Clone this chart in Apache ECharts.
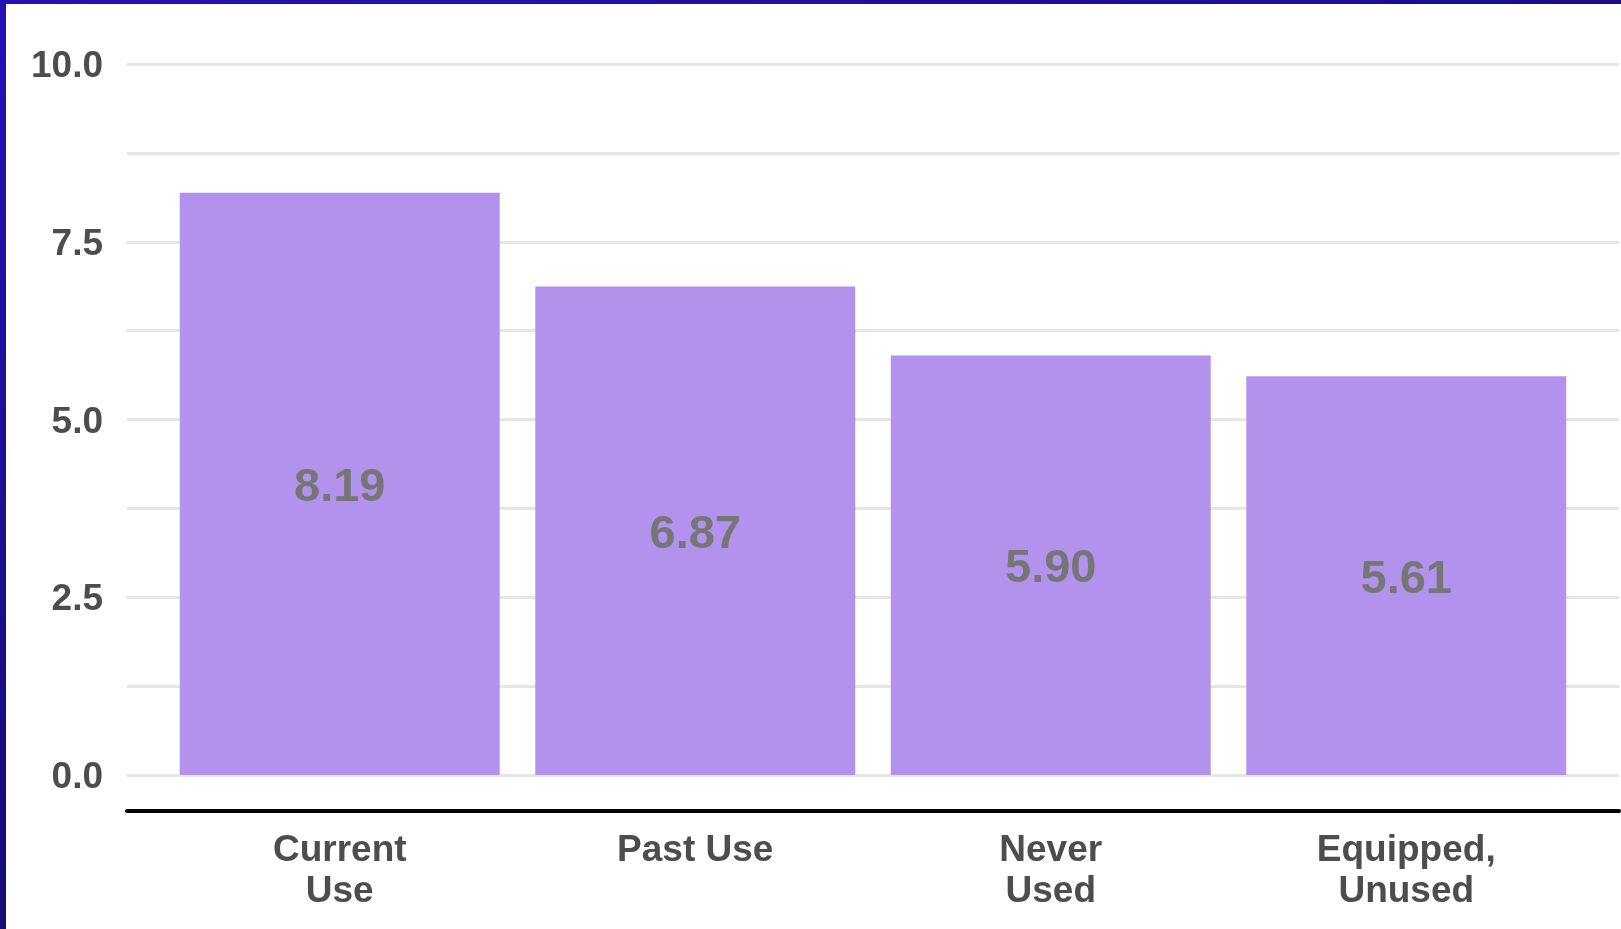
<!DOCTYPE html>
<html>
<head>
<meta charset="utf-8">
<title>Scores by usage group</title>
<script src="https://cdn.jsdelivr.net/npm/echarts@6/dist/echarts.min.js"></script>
<style>
  html, body { margin: 0; padding: 0; width: 1621px; height: 929px; overflow: hidden; }
  body { background: linear-gradient(160deg, #2612b4 0%, #1c0c8e 40%, #120a4a 100%); position: relative; }
  #chart { position: absolute; left: 6px; top: 4px; width: 1615px; height: 925px; background: #ffffff; }
</style>
</head>
<body>
<div id="chart"></div>
<script>
// Groups and their average scores
const categories = ['Current\nUse', 'Past Use', 'Never\nUsed', 'Equipped,\nUnused'];
const scores = [8.19, 6.87, 5.90, 5.61];
// Value axis range and step between grid lines (labels on every other line)
const yMin = 0;
const yMax = 10;
const gridStep = 1.25;
const labelStep = 2.5;

const FONT = '"Liberation Sans", Arial, Helvetica, sans-serif';
const chart = echarts.init(document.getElementById('chart'));

chart.setOption({
  animation: false,
  textStyle: { fontFamily: FONT },
  grid: [
    // full-width grid that carries the value axis, grid lines and baseline
    { left: 121, right: 2, top: 60, bottom: 154 },
    // narrower grid where the bars sit
    { left: 156, right: 37, top: 60, bottom: 154 }
  ],
  xAxis: [
    {
      gridIndex: 0,
      type: 'value',
      min: 0, max: 1,
      offset: 36,
      axisLine: { show: true, onZero: false, lineStyle: { color: '#000000', width: 4 } },
      axisTick: { show: false },
      axisLabel: { show: false },
      splitLine: { show: false }
    },
    {
      gridIndex: 1,
      type: 'category',
      data: categories,
      axisLine: { show: false },
      axisTick: { show: false },
      axisLabel: {
        margin: 55,
        fontFamily: FONT,
        fontSize: 37,
        fontWeight: 'bold',
        color: '#4d4d4d',
        lineHeight: 41,
        align: 'center'
      }
    }
  ],
  yAxis: [
    {
      gridIndex: 0,
      type: 'value',
      min: yMin, max: yMax, interval: gridStep,
      axisLine: { show: false },
      axisTick: { show: false },
      axisLabel: {
        margin: 24,
        formatter: function (v) {
          const onLabel = Math.abs(v / labelStep - Math.round(v / labelStep)) < 1e-9;
          return onLabel ? '{t|' + v.toFixed(1) + '}' : '';
        },
        rich: {
          t: {
            fontFamily: FONT,
            fontSize: 37,
            fontWeight: 'bold',
            color: '#4d4d4d',
            padding: [6, 0, 0, 0]
          }
        }
      },
      splitLine: { show: true, lineStyle: { color: '#e6e6e6', width: 3 } }
    },
    {
      gridIndex: 1,
      type: 'value',
      min: yMin, max: yMax,
      show: false,
      splitLine: { show: false }
    }
  ],
  series: [
    {
      type: 'bar',
      xAxisIndex: 1,
      yAxisIndex: 1,
      data: scores,
      barCategoryGap: '10%',
      itemStyle: { color: '#b392ee' },
      label: {
        show: true,
        position: 'inside',
        offset: [0, 4],
        fontFamily: FONT,
        fontSize: 47,
        fontWeight: 'bold',
        color: '#767676',
        formatter: function (p) { return p.value.toFixed(2); }
      }
    }
  ]
});
</script>
</body>
</html>
